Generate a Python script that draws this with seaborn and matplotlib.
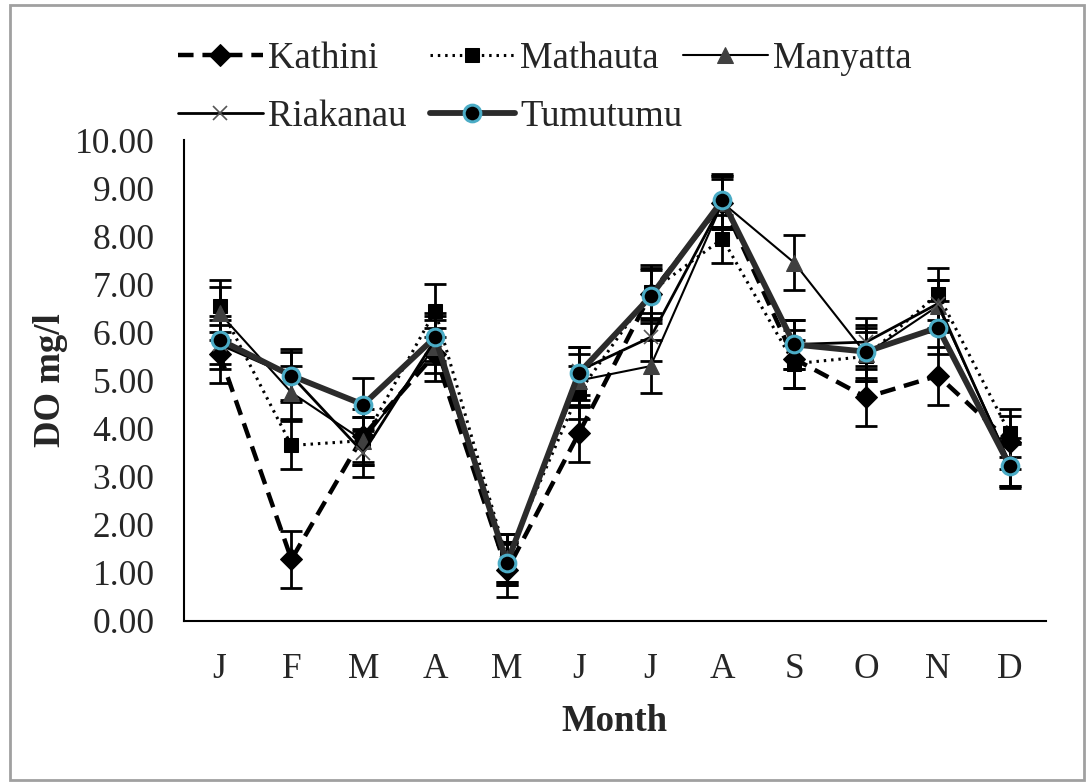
import matplotlib
matplotlib.use("Agg")
import matplotlib.pyplot as plt
import seaborn as sns
import numpy as np
from matplotlib.patches import Rectangle
from matplotlib.ticker import FixedLocator, FormatStrFormatter

months = ["J", "F", "M", "A", "M", "J", "J", "A", "S", "O", "N", "D"]

kathini = [5.55, 1.28, 3.85, 5.55, 1.05, 3.90, 6.80, 8.70, 5.45, 4.65, 5.10, 3.72]
mathauta = [6.55, 3.65, 3.75, 6.45, 1.30, 4.75, 6.85, 7.95, 5.35, 5.50, 6.80, 3.90]
manyatta = [6.40, 4.75, 3.75, 5.70, 1.30, 5.00, 5.30, 8.70, 7.45, 5.55, 6.55, 3.30]
riakanau = [5.75, 5.10, 3.50, 5.85, 1.20, 5.20, 5.90, 8.70, 5.75, 5.80, 6.60, 3.25]
tumutumu = [5.85, 5.10, 4.50, 5.90, 1.20, 5.15, 6.75, 8.75, 5.75, 5.60, 6.10, 3.22]

kathini_err = [0.60, 0.60, 0.55, 0.55, 0.55, 0.60, 0.55, 0.55, 0.60, 0.60, 0.60, 0.55]
mathauta_err = [0.55, 0.50, 0.50, 0.55, 0.50, 0.55, 0.55, 0.50, 0.50, 0.50, 0.55, 0.50]
manyatta_err = [0.55, 0.55, 0.50, 0.55, 0.50, 0.55, 0.55, 0.55, 0.57, 0.55, 0.55, 0.50]
riakanau_err = [0.50, 0.50, 0.50, 0.50, 0.45, 0.50, 0.50, 0.50, 0.50, 0.50, 0.50, 0.45]
tumutumu_err = [0.50, 0.55, 0.55, 0.50, 0.45, 0.55, 0.55, 0.55, 0.50, 0.55, 0.55, 0.45]

series_names = ["Kathini", "Mathauta", "Manyatta", "Riakanau", "Tumutumu"]

sns.set_theme(style="white")
plt.rcParams["font.family"] = ["Liberation Serif", "DejaVu Serif"]

fig = plt.figure(figsize=(10.87, 7.83), dpi=100)
ax = fig.add_axes([0.169, 0.207, 0.793, 0.614])

x = np.arange(len(months))

styles = {
    "Kathini": dict(color="black", linestyle=(0, (3.5, 2.0)), linewidth=3.2, marker="D",
                    markersize=11, markerfacecolor="black", markeredgecolor="black", zorder=3),
    "Mathauta": dict(color="black", linestyle=(0, (0.8, 1.6)), linewidth=2.2, marker="s",
                     markersize=10, markerfacecolor="black", markeredgecolor="black", zorder=3),
    "Manyatta": dict(color="black", linestyle="-", linewidth=1.5, marker="^",
                     markersize=11, markerfacecolor="#404040", markeredgecolor="#404040", zorder=3),
    "Riakanau": dict(color="black", linestyle="-", linewidth=2.0, marker="x",
                     markersize=10, markeredgewidth=1.2, markeredgecolor="#555555", zorder=4),
    "Tumutumu": dict(color="#2b2b2b", linestyle="-", linewidth=4.2, marker="o",
                     markersize=12, markerfacecolor="black", markeredgecolor="#4bacc6",
                     markeredgewidth=2.2, zorder=5),
}

values = {"Kathini": kathini, "Mathauta": mathauta, "Manyatta": manyatta,
          "Riakanau": riakanau, "Tumutumu": tumutumu}
errors = {"Kathini": kathini_err, "Mathauta": mathauta_err, "Manyatta": manyatta_err,
          "Riakanau": riakanau_err, "Tumutumu": tumutumu_err}

handles = {}
for name in series_names:
    ax.errorbar(x, values[name], yerr=errors[name], fmt="none", ecolor="black",
                elinewidth=2, capsize=8, capthick=2, zorder=2)
    st = dict(styles[name])
    z = st.pop("zorder")
    sns.lineplot(x=x, y=values[name], ax=ax, label=name, zorder=z, **st)
    handles[name] = ax.get_lines()[-1]

if ax.get_legend() is not None:
    ax.get_legend().remove()

ax.set_ylim(0, 10)
ax.set_xlim(-0.5, 11.5)
ax.yaxis.set_major_locator(FixedLocator(np.arange(0, 10.01, 1)))
ax.yaxis.set_major_formatter(FormatStrFormatter("%.2f"))
ax.set_xticks(x)
ax.set_xticklabels(months)
ax.set_xticks(np.arange(-0.5, 11.6, 1), minor=True)
ax.tick_params(axis="x", which="major", length=0, pad=23, labelsize=25.5)
ax.tick_params(axis="x", which="minor", length=11, width=1.5, direction="out", color="black")
ax.tick_params(axis="y", which="major", length=7, width=1.5, direction="out", color="black",
               labelsize=25.5, pad=14)
for side in ["top", "right"]:
    ax.spines[side].set_visible(False)
for side in ["left", "bottom"]:
    ax.spines[side].set_color("black")
    ax.spines[side].set_linewidth(1.5)

ax.set_xlabel("Month", fontsize=26.5, fontweight="bold", labelpad=13)
ax.set_ylabel("DO mg/l", fontsize=26.5, fontweight="bold", labelpad=5)

# Legend laid out as equal-width entries (two rows), like the original
W, H = 1087.0, 783.0
col_x = [178, 430, 683]
row_y = [59, 117]
slots = {"Kathini": (0, 0), "Mathauta": (1, 0), "Manyatta": (2, 0),
         "Riakanau": (0, 1), "Tumutumu": (1, 1)}
for name in series_names:
    c, r = slots[name]
    fig.legend([handles[name]], [name], loc="center left",
               bbox_to_anchor=(col_x[c] / W, 1 - row_y[r] / H),
               frameon=False, fontsize=26.5, handlelength=2.3, handletextpad=0.15,
               borderaxespad=0, borderpad=0)

fig.patches.append(Rectangle((0.009, 0.004), 0.988, 0.99, transform=fig.transFigure,
                             fill=False, edgecolor="#a0a0a0", linewidth=2))

fig.savefig("out.png", dpi=100, facecolor="white")
